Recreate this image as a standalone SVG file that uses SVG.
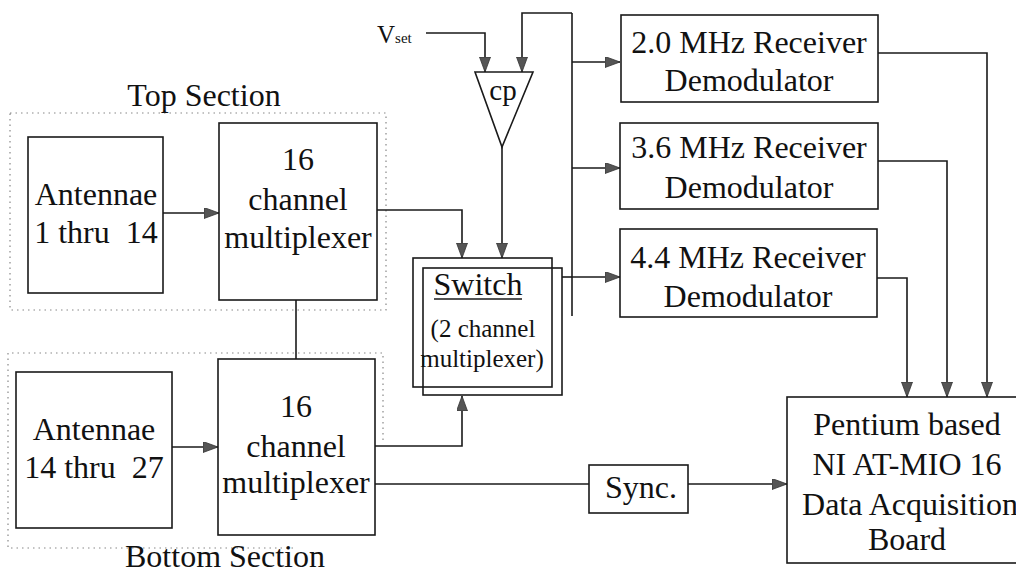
<svg xmlns="http://www.w3.org/2000/svg" width="1016" height="575" viewBox="0 0 1016 575">
<style>
.box{fill:none;stroke:#1a1a1a;stroke-width:1.6}
.dot{fill:none;stroke:#888;stroke-width:1.2;stroke-dasharray:1.5,4}
.ln{fill:none;stroke:#1a1a1a;stroke-width:1.6}
text{font-family:"Liberation Serif","Times New Roman",serif;fill:#111}
.t{font-size:32px;text-anchor:middle}
.s{font-size:25px;text-anchor:middle}
</style>
<defs>
<marker id="ah" markerUnits="userSpaceOnUse" markerWidth="16" markerHeight="12" refX="15" refY="5.5" orient="auto">
<path d="M0,0 L15,5.5 L0,11 z" fill="#555" stroke="#333" stroke-width="0.8"/>
</marker>
</defs>
<rect width="1016" height="575" fill="#fff"/>

<g id="sections">
<rect class="dot" x="10" y="113" width="376" height="197"/>
<path class="dot" d="M383,440 V353 H8 V548 H295"/>
<text class="t" x="204" y="106">Top Section</text>
<text class="t" x="225" y="567">Bottom Section</text>
</g>

<g id="connectors">
<path class="ln" d="M426,33 H485 V72" marker-end="url(#ah)"/>
<path class="ln" d="M572,316 V13"/>
<path class="ln" d="M572,13 H522 V72" marker-end="url(#ah)"/>
<path class="ln" d="M502,147 V258" marker-end="url(#ah)"/>
<path class="ln" d="M377,210 H462 V258" marker-end="url(#ah)"/>
<path class="ln" d="M375,446 H462 V396" marker-end="url(#ah)"/>
<path class="ln" d="M562,277 H572"/>
<path class="ln" d="M572,62 H620" marker-end="url(#ah)"/>
<path class="ln" d="M572,168 H620" marker-end="url(#ah)"/>
<path class="ln" d="M572,277 H620" marker-end="url(#ah)"/>
<path class="ln" d="M163,213 H219" marker-end="url(#ah)"/>
<path class="ln" d="M172,447 H218" marker-end="url(#ah)"/>
<path class="ln" d="M296,300 V359"/>
<path class="ln" d="M375,484 H589"/>
<path class="ln" d="M688,484 H787" marker-end="url(#ah)"/>
<path class="ln" d="M878,53 H987 V397" marker-end="url(#ah)"/>
<path class="ln" d="M878,161 H947 V397" marker-end="url(#ah)"/>
<path class="ln" d="M877,278 H907 V397" marker-end="url(#ah)"/>
</g>

<g id="vset">
<text x="377" y="43" font-size="25">V<tspan font-size="15">set</tspan></text>
</g>

<g id="cp">
<polygon class="box" points="475,72 533,72 502,147"/>
<text class="t" x="503" y="100" style="font-size:29px">cp</text>
</g>

<g id="ant-top">
<rect class="box" x="28" y="137" width="135" height="156"/>
<text class="t" x="96" y="205">Antennae</text>
<text class="t" x="96" y="243" xml:space="preserve">1 thru  14</text>
</g>

<g id="mux-top">
<rect class="box" x="219" y="123" width="158" height="177"/>
<text class="t" x="298" y="170">16</text>
<text class="t" x="298" y="210">channel</text>
<text class="t" x="298" y="248">multiplexer</text>
</g>

<g id="ant-bottom">
<rect class="box" x="16" y="372" width="156" height="156"/>
<text class="t" x="94" y="440">Antennae</text>
<text class="t" x="94" y="478" xml:space="preserve">14 thru  27</text>
</g>

<g id="mux-bottom">
<rect class="box" x="218" y="359" width="157" height="176"/>
<text class="t" x="296" y="417">16</text>
<text class="t" x="296" y="457">channel</text>
<text class="t" x="296" y="493">multiplexer</text>
</g>

<g id="switch">
<rect class="box" x="413" y="258" width="139" height="129"/>
<rect class="box" x="423" y="268" width="139" height="127"/>
<text class="t" x="478" y="295">Switch</text>
<line class="ln" x1="434" y1="299" x2="522" y2="299" stroke-width="1.3"/>
<text class="s" x="483" y="337">(2 channel</text>
<text class="s" x="482" y="367">multiplexer)</text>
</g>

<g id="rx1">
<rect class="box" x="621" y="15" width="257" height="87"/>
<text class="t" x="749" y="53">2.0 MHz Receiver</text>
<text class="t" x="749" y="91">Demodulator</text>
</g>

<g id="rx2">
<rect class="box" x="620" y="123" width="258" height="86"/>
<text class="t" x="749" y="158">3.6 MHz Receiver</text>
<text class="t" x="749" y="198">Demodulator</text>
</g>

<g id="rx3">
<rect class="box" x="620" y="229" width="257" height="88"/>
<text class="t" x="748" y="268">4.4 MHz Receiver</text>
<text class="t" x="748" y="307">Demodulator</text>
</g>

<g id="sync">
<rect class="box" x="589" y="465" width="99" height="48"/>
<text class="t" x="641" y="498">Sync.</text>
</g>

<g id="board">
<rect class="box" x="787" y="397" width="245" height="166"/>
<text class="t" x="907" y="435">Pentium based</text>
<text class="t" x="907" y="475">NI AT-MIO 16</text>
<text class="t" x="910" y="515">Data Acquisition</text>
<text class="t" x="907" y="550">Board</text>
</g>
</svg>
